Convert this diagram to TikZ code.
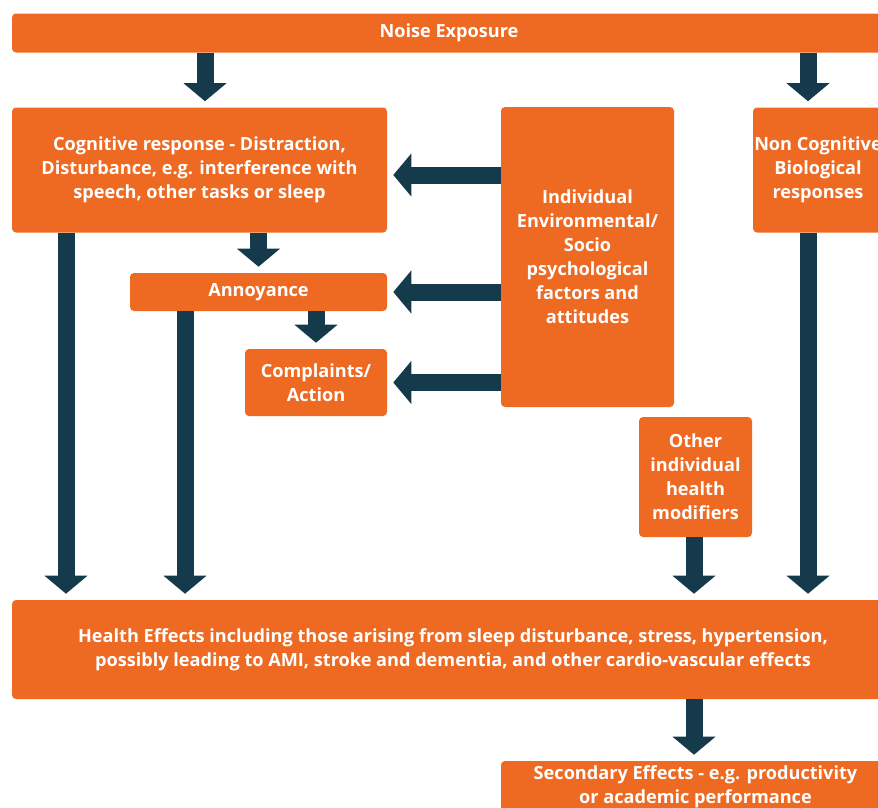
\documentclass[tikz,border=0pt]{standalone}
\usepackage{fontspec}
\setmainfont{Open Sans}
\usetikzlibrary{arrows.meta}
\definecolor{noiseorange}{HTML}{EE6A23}
\definecolor{noisenavy}{HTML}{143A4B}
\tikzset{
  box/.style={fill=noiseorange, rounded corners=3pt, inner sep=0pt, align=center,
    text=white, font=\fontsize{13.6}{18}\selectfont\bfseries},
  flow/.style={draw=noisenavy, line width=12.75pt, shorten >=4.5pt,
    -{Triangle[width=31.5pt,length=13.5pt]}}
}
\begin{document}
\begin{tikzpicture}[x=0.75pt,y=-0.75pt]
% 1 unit = 1 px of the 878 x 807 frame, y downwards
\useasboundingbox (0,0) rectangle (878,807);
\clip (0,0) rectangle (878,807);
\node[box, minimum width=655.5pt, minimum height=29.25pt] (noise) at (449,33) {Noise Exposure};
\node[box, minimum width=281.25pt, minimum height=93.75pt] (cog) at (199.5,170)
  {Cognitive response - Distraction,\\Disturbance, e.g. interference with\\speech, other tasks or sleep};
\node[box, minimum width=129.75pt, minimum height=225pt] (indiv) at (587.5,257)
  {Individual\\Environmental/\\Socio\\psychological\\factors and\\attitudes};
\node[box, minimum width=97.5pt, minimum height=93.75pt] (noncog) at (818,170)
  {Non Cognitive\\Biological\\responses};
\node[box, minimum width=192.75pt, minimum height=28.5pt] (annoy) at (258.5,292) {Annoyance};
\node[box, minimum width=106.5pt, minimum height=50.25pt] (compl) at (316,382.5) {Complaints/\\Action};
\node[box, minimum width=84.75pt, minimum height=90pt] (other) at (695.5,477)
  {Other\\individual\\health\\modifiers};
\node[box, minimum width=661.5pt, minimum height=74.25pt] (health) at (453,649.5)
  {Health Effects including those arising from sleep disturbance, stress, hypertension,\\
   possibly leading to AMI, stroke and dementia, and other cardio-vascular effects};
\node[box, minimum width=291.75pt, minimum height=39pt] (second) at (695.5,787)
  {Secondary Effects - e.g. productivity\\or academic performance};
% arrow columns and rows
\coordinate (ca) at (66,0); \coordinate (cb) at (185,0); \coordinate (cc) at (205,0);
\coordinate (cf) at (694,0); \coordinate (cg) at (808,0);
\coordinate (ra) at (0,175);
\draw[flow] (noise.south -| cc) -- (cog.north -| cc);
\draw[flow] (noise.south -| cg) -- (noncog.north -| cg);
\draw[flow] (cog.south -| ca) -- (health.north -| ca);
\draw[flow] (cog.south -| annoy.north) -- (annoy.north);
\draw[flow] (annoy.south -| cb) -- (health.north -| cb);
\draw[flow] (annoy.south -| compl.north) -- (compl.north);
\draw[flow] (indiv.west |- ra) -- (cog.east |- ra);
\draw[flow] (indiv.west |- annoy.east) -- (annoy.east);
\draw[flow] (indiv.west |- compl.east) -- (compl.east);
\draw[flow] (other.south -| cf) -- (health.north -| cf);
\draw[flow] (noncog.south -| cg) -- (health.north -| cg);
\draw[flow] (health.south -| cf) -- (second.north -| cf);
\end{tikzpicture}
\end{document}
